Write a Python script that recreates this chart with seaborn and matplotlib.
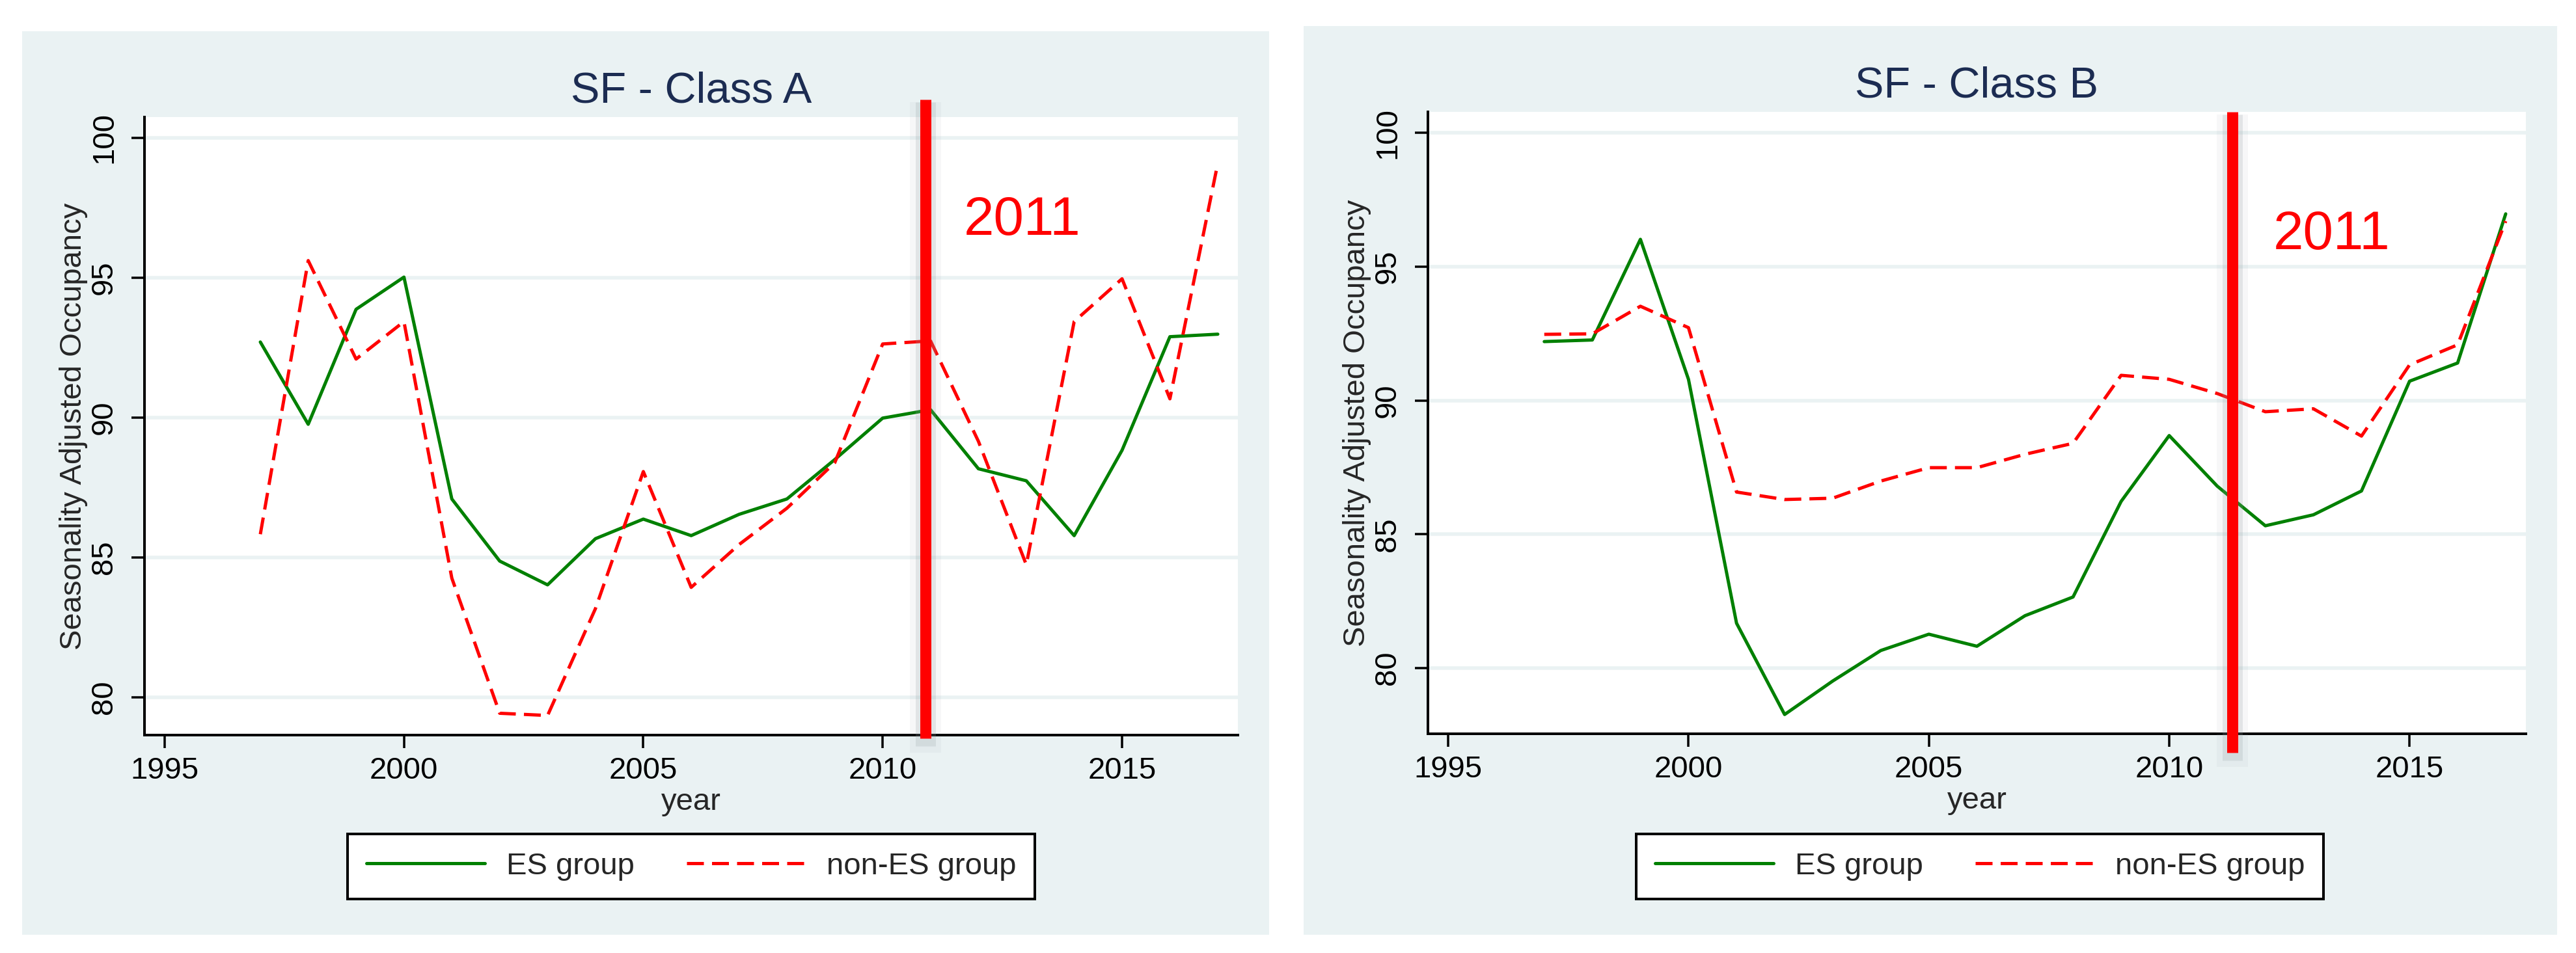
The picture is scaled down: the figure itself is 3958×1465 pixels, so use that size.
import matplotlib
matplotlib.use("Agg")
import matplotlib.pyplot as plt
import matplotlib.patches as mpatches
from matplotlib.lines import Line2D
import pandas as pd
import seaborn as sns

# ---- data ----
years = list(range(1997, 2018))

class_a_es = [92.70, 89.76, 93.87, 95.02, 87.09, 84.87, 84.02, 85.67, 86.37, 85.78, 86.54,
              87.09, 88.50, 89.98, 90.28, 88.17, 87.74, 85.78, 88.83, 92.89, 92.98]
class_a_non_es = [85.83, 95.61, 92.09, 93.43, 84.26, 79.43, 79.35, 83.17, 88.07, 83.93, 85.46,
                  86.76, 88.39, 92.63, 92.74, 89.15, 84.74, 93.43, 94.96, 90.67, 99.09]

class_b_es = [92.20, 92.26, 96.02, 90.79, 81.68, 78.27, 79.52, 80.66, 81.27, 80.82, 81.96,
              82.66, 86.23, 88.69, 86.80, 85.32, 85.73, 86.62, 90.72, 91.40, 96.97]
class_b_non_es = [92.47, 92.49, 93.52, 92.72, 86.58, 86.30, 86.35, 86.99, 87.49, 87.49, 87.99,
                  88.40, 90.94, 90.79, 90.26, 89.58, 89.69, 88.67, 91.33, 92.08, 96.70]

group_names = ["ES group", "non-ES group"]
panel_titles = ["SF - Class A", "SF - Class B"]
event_label = "2011"
event_x = [2010.89, 2011.31]          # where the red marker line sits in each panel
x_ticks = [1995, 2000, 2005, 2010, 2015]
y_ticks = [80, 85, 90, 95, 100]

# ---- styling / layout ----
W, H, DPI = 3958, 1465, 200
BG = "#eaf2f3"
TITLE_C = "#1c2c52"
GREEN = "#008000"
RED = "#ff0000"


def px(v):
    return v * 72.0 / DPI


sns.set_style("white")
plt.rcParams["font.family"] = ["Liberation Sans", "DejaVu Sans"]

fig = plt.figure(figsize=(W / DPI, H / DPI), dpi=DPI)
fig.patch.set_facecolor("white")

# panel backgrounds (pixel boxes: x0, y0, x1, y1)
panel_boxes = [(34, 48, 1950, 1437), (2003, 40, 3929, 1437)]
axes_boxes = [(222, 180, 1902, 1130), (2194, 172, 3881, 1128)]
ylims = [(78.65, 100.74), (77.55, 100.78)]
xlim = (1994.58, 2017.42)
line_span = [(101.37, 78.53), (100.78, 76.84)]
label_pos = [(2011.69, 96.53), (2012.16, 95.65)]
legend_centers = [(1062, 1332), (3042, 1332)]

for (x0, y0, x1, y1) in panel_boxes:
    fig.patches.append(mpatches.Rectangle((x0 / W, 1 - y1 / H), (x1 - x0) / W, (y1 - y0) / H,
                                          transform=fig.transFigure, facecolor=BG,
                                          edgecolor="none", zorder=-5))

panels = [(class_a_es, class_a_non_es), (class_b_es, class_b_non_es)]

for i, (es_vals, non_vals) in enumerate(panels):
    x0, y0, x1, y1 = axes_boxes[i]
    ax = fig.add_axes([x0 / W, 1 - y1 / H, (x1 - x0) / W, (y1 - y0) / H])
    ax.set_facecolor("white")

    df = pd.DataFrame({
        "year": years * 2,
        "occ": es_vals + non_vals,
        "group": [group_names[0]] * len(years) + [group_names[1]] * len(years),
    })
    sns.lineplot(data=df, x="year", y="occ", hue="group", style="group",
                 palette={group_names[0]: GREEN, group_names[1]: RED},
                 dashes={group_names[0]: "", group_names[1]: (5.2, 2.5)},
                 linewidth=px(5), legend=False, ax=ax, zorder=3)

    ax.set_xlim(*xlim)
    ax.set_ylim(*ylims[i])
    ax.set_xticks(x_ticks)
    ax.set_yticks(y_ticks)

    ax.yaxis.grid(True, color=BG, linewidth=px(5.5))
    ax.xaxis.grid(False)
    ax.set_axisbelow(True)

    for side in ["top", "right"]:
        ax.spines[side].set_visible(False)
    for side in ["left", "bottom"]:
        ax.spines[side].set_color("black")
        ax.spines[side].set_linewidth(px(4))

    ax.tick_params(axis="both", direction="out", length=px(20), width=px(3.5),
                   color="black", labelcolor="black", labelsize=17,
                   left=True, bottom=True)
    ax.tick_params(axis="x", pad=px(13))
    ax.tick_params(axis="y", pad=px(20), labelrotation=90)
    for lab in ax.get_yticklabels():
        lab.set_va("center")

    ax.set_xlabel("year", fontsize=17, labelpad=px(4))
    ax.set_ylabel("Seasonality Adjusted Occupancy", fontsize=17, labelpad=px(3))
    ax.set_title(panel_titles[i], fontsize=24, color=TITLE_C, pad=px(22))

    # red marker line with a soft grey shadow
    ex = event_x[i]
    top, bot = line_span[i]
    dy = (ylims[i][1] - ylims[i][0]) / (y1 - y0)
    ax.plot([ex, ex], [top - 4 * dy, bot - 22 * dy], color="#8f9ba0", alpha=0.07,
            lw=px(48), solid_capstyle="butt", clip_on=False, zorder=4)
    ax.plot([ex, ex], [top - 4 * dy, bot - 12 * dy], color="#8f9ba0", alpha=0.2,
            lw=px(31), solid_capstyle="butt", clip_on=False, zorder=4)
    ax.plot([ex, ex], [top, bot], color=RED, lw=px(17), solid_capstyle="butt",
            clip_on=False, zorder=5)
    ax.text(label_pos[i][0], label_pos[i][1], event_label, color=RED, fontsize=30,
            ha="left", va="baseline", zorder=6)

    handles = [Line2D([], [], color=GREEN, lw=px(5)),
               Line2D([], [], color=RED, lw=px(5), dashes=(5.2, 2.5))]
    lx, ly = legend_centers[i]
    leg = ax.legend(handles, group_names, loc="center", bbox_to_anchor=(lx / W, 1 - ly / H),
                    bbox_transform=fig.transFigure, ncol=2, fontsize=17, frameon=True,
                    fancybox=False, edgecolor="black", framealpha=1, handlelength=3.85,
                    handletextpad=0.7, columnspacing=1.7, borderpad=0.6, borderaxespad=0)
    leg.get_frame().set_linewidth(px(4))

fig.savefig("out.png", dpi=DPI, facecolor="white")
